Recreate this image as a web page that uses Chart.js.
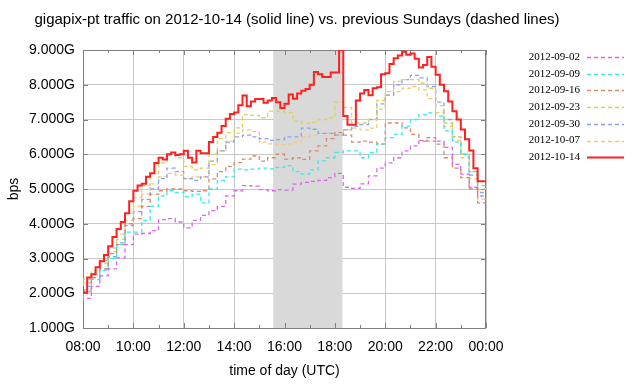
<!DOCTYPE html>
<html>
<head>
<meta charset="utf-8">
<title>gigapix-pt traffic</title>
<script src="https://cdn.jsdelivr.net/npm/chart.js@4.4.1/dist/chart.umd.min.js"></script>
<style>
  html, body { margin: 0; padding: 0; background: #fff; }
  #wrap { width: 640px; height: 384px; }
</style>
</head>
<body>
<div id="wrap"><canvas id="traffic" width="640" height="384"></canvas></div>
<script>
// day labels, oldest first (legend order)
const days = ['2012-09-02', '2012-09-09', '2012-09-16', '2012-09-23', '2012-09-30', '2012-10-07', '2012-10-14'];
const dayColors = ['#dd66ee', '#40e8e8', '#d98b6a', '#ddd060', '#88a4f0', '#f5c878', '#ff2020'];

// hour ticks 08:00 .. 00:00 (every 2 h labelled)
const hourLabels = ['08:00', '10:00', '12:00', '14:00', '16:00', '18:00', '20:00', '22:00', '00:00'];

// shaded interval (hours UTC)
const highlight = [15.55, 18.3];

// previous sundays, Gbps, one value per 20 min from 08:00 to 24:00
const sep02 = [1.76, 1.85, 2.2, 2.5, 2.7, 3.02, 3.4, 3.7, 3.72, 3.8, 4.12, 4.15,
  4.05, 3.88, 4.1, 4.24, 4.38, 4.5, 4.8, 4.95, 5.1, 5.08, 4.98, 4.95,
  4.98, 4.97, 5.14, 5.19, 5.22, 5.25, 5.33, 5.45, 5.05, 5.02, 5.15, 5.38,
  5.6, 5.75, 5.9, 6.1, 6.24, 6.38, 6.48, 6.38, 6.2, 5.71, 5.43, 5.05, 4.8];
const sep09 = [1.8, 2.05, 2.4, 2.65, 3.0, 3.4, 3.76, 3.76, 4.1, 4.5, 4.8, 4.95,
  4.9, 4.78, 4.85, 4.6, 5.0, 5.24, 5.35, 5.57, 5.55, 5.57, 5.6, 5.58,
  5.62, 5.67, 5.5, 5.43, 5.55, 5.81, 5.9, 6.05, 6.1, 6.1, 5.9, 6.05,
  6.3, 6.48, 6.57, 6.81, 7.0, 7.14, 7.19, 7.1, 6.67, 6.35, 6.0, 5.5, 5.1];
const sep16 = [1.9, 2.1, 2.45, 2.7, 3.14, 3.4, 4.0, 4.15, 4.5, 4.85, 4.95, 5.0,
  5.0, 4.95, 4.93, 4.95, 5.29, 5.5, 5.65, 5.76, 5.86, 5.95, 5.8, 5.9,
  6.0, 5.86, 5.9, 5.85, 6.1, 6.24, 6.45, 6.62, 6.55, 6.35, 6.38, 6.35,
  6.29, 6.9, 6.9, 6.76, 6.57, 6.4, 6.38, 6.29, 5.9, 5.6, 5.33, 5.0, 4.6];
const sep23 = [2.15, 2.4, 2.65, 2.95, 3.3, 3.7, 4.3, 4.75, 5.1, 5.45, 5.75, 5.98,
  5.9, 5.65, 5.55, 5.6, 6.0, 6.45, 6.62, 6.76, 7.14, 7.12, 7.05, 7.24,
  7.24, 7.2, 6.95, 6.9, 6.92, 7.0, 7.05, 7.5, 7.35, 6.9, 6.9, 7.0,
  7.55, 7.8, 8.1, 8.15, 8.15, 8.05, 7.9, 7.4, 6.9, 6.5, 6.0, 5.5, 5.0];
const sep30 = [1.9, 2.2, 2.45, 2.7, 3.05, 3.45, 3.95, 4.35, 4.7, 5.0, 5.3, 5.6,
  5.5, 5.3, 5.25, 5.35, 5.8, 6.1, 6.35, 6.5, 6.55, 6.5, 6.45, 6.4,
  6.42, 6.5, 6.5, 6.75, 6.72, 6.6, 6.6, 6.55, 6.7, 6.8, 6.85, 7.0,
  7.45, 7.7, 8.0, 8.15, 8.27, 8.2, 7.95, 7.5, 7.0, 6.5, 6.0, 5.4, 4.9];
const oct07 = [2.05, 2.3, 2.55, 2.85, 3.2, 3.55, 4.1, 4.5, 4.85, 5.15, 5.35, 5.45,
  5.4, 5.3, 5.35, 5.35, 5.7, 6.1, 6.38, 6.6, 6.7, 6.65, 6.35, 6.3,
  6.28, 6.3, 6.35, 6.5, 6.55, 6.6, 6.6, 6.55, 6.7, 6.75, 6.7, 6.75,
  7.3, 7.7, 7.8, 7.9, 7.95, 7.85, 7.6, 7.2, 6.8, 6.4, 5.9, 5.3, 4.7];

// the day itself, Gbps, one value per 10 min from 08:00 to 24:00
const oct14 = [2.2, 2.02, 2.45, 2.55, 2.75, 2.92,
  3.1, 3.35, 3.62, 3.85, 4.05, 4.3,
  4.65, 4.95, 5.1, 5.15, 5.35, 5.45,
  5.75, 5.9, 5.85, 6.0, 6.05, 5.98,
  6.0, 6.1, 5.9, 5.76, 6.1, 6.03,
  6.03, 6.35, 6.5, 6.62, 6.81, 7.02,
  7.16, 7.2, 7.41, 7.69, 7.38, 7.52,
  7.59, 7.59, 7.48, 7.55, 7.62, 7.5,
  7.33, 7.45, 7.72, 7.6, 7.75, 7.83,
  7.88, 8.0, 8.37, 8.3, 8.22, 8.22,
  8.35, 8.35, 9.0, 7.1, 6.85, 6.85,
  7.55, 7.75, 7.85, 7.7, 7.9, 7.93,
  8.3, 8.33, 8.6, 8.76, 8.84, 8.95,
  8.86, 8.9, 8.75, 8.5, 8.57, 8.8,
  8.52, 8.29, 8.0, 7.81, 7.52, 7.24,
  7.0, 6.71, 6.43, 6.11, 5.6, 5.22,
  5.22];

// sample times in hours
function sampleTimes(n) {
  const out = [];
  for (let i = 0; i < n; i++) out.push(8 + 16 * i / (n - 1));
  return out;
}
function toPoints(values) {
  const t = sampleTimes(values.length);
  return values.map((v, i) => ({x: t[i], y: v}));
}

const series = [sep02, sep09, sep16, sep23, sep30, oct07, oct14];

const SANS = '"Liberation Sans", Arial, Helvetica, sans-serif';
const SERIF = '"Liberation Serif", "Times New Roman", serif';
Chart.defaults.font.family = SANS;
Chart.defaults.color = '#000';

const datasets = series.map((vals, i) => {
  const solid = i === series.length - 1;
  return {
    label: days[i],
    data: toPoints(vals),
    borderColor: dayColors[i],
    borderWidth: solid ? 2 : 1.3,
    borderDash: solid ? [] : [4, 3],
    stepped: 'after',
    pointRadius: 0,
    fill: false,
    order: solid ? 0 : 1
  };
});

// band, frame, inward ticks, title and the key on the right
const gnuplotBits = {
  id: 'gnuplotBits',
  beforeDatasetsDraw(chart) {
    const {ctx, chartArea: a, scales: {x, y}} = chart;
    const x0 = x.getPixelForValue(highlight[0]);
    const x1 = x.getPixelForValue(highlight[1]);
    ctx.save();
    ctx.fillStyle = '#d9d9d9';
    ctx.fillRect(x0, a.top, x1 - x0, a.bottom - a.top);

    ctx.strokeStyle = '#808080';
    ctx.lineWidth = 1;
    ctx.strokeRect(a.left + 0.5, a.top + 0.5, a.right - a.left - 1, a.bottom - a.top);
    ctx.beginPath();
    for (let v = 1; v <= 9; v++) {
      const py = Math.round(y.getPixelForValue(v)) + 0.5;
      ctx.moveTo(a.left, py); ctx.lineTo(a.left + 5, py);
      ctx.moveTo(a.right, py); ctx.lineTo(a.right - 5, py);
    }
    for (let h = 8; h <= 24; h++) {
      const px = Math.round(x.getPixelForValue(h)) + 0.5;
      const len = h % 2 === 0 ? 5 : 3;
      ctx.moveTo(px, a.top); ctx.lineTo(px, a.top + len);
      ctx.moveTo(px, a.bottom); ctx.lineTo(px, a.bottom - len);
    }
    ctx.stroke();
    ctx.restore();
  },
  afterDraw(chart) {
    const {ctx} = chart;
    ctx.save();
    ctx.fillStyle = '#000';
    ctx.font = '15px ' + SANS;
    ctx.textAlign = 'center';
    ctx.textBaseline = 'middle';
    ctx.fillText('gigapix-pt traffic on 2012-10-14 (solid line) vs. previous Sundays (dashed lines)', 297, 20);

    ctx.font = '11px ' + SERIF;
    ctx.textAlign = 'right';
    chart.data.datasets.forEach((ds, i) => {
      const ky = 57 + i * 16.7;
      ctx.fillStyle = '#000';
      ctx.fillText(ds.label, 580, ky);
      ctx.strokeStyle = ds.borderColor;
      ctx.lineWidth = ds.borderWidth;
      ctx.setLineDash(ds.borderDash);
      ctx.beginPath();
      ctx.moveTo(587, Math.round(ky) + 0.5);
      ctx.lineTo(624, Math.round(ky) + 0.5);
      ctx.stroke();
    });
    ctx.restore();
  }
};

new Chart(document.getElementById('traffic'), {
  type: 'line',
  data: {datasets: datasets},
  plugins: [gnuplotBits],
  options: {
    responsive: false,
    animation: false,
    devicePixelRatio: 1,
    layout: {padding: {top: 50, right: 154, left: 0, bottom: 0}},
    plugins: {
      legend: {display: false},
      title: {display: false},
      tooltip: {enabled: false}
    },
    scales: {
      x: {
        type: 'linear',
        min: 8,
        max: 24,
        afterFit: s => { s.height = 56; },
        ticks: {
          stepSize: 1,
          autoSkip: false,
          maxRotation: 0,
          padding: 11,
          font: {size: 14},
          callback: v => (v % 2 === 0 ? hourLabels[(v - 8) / 2] : '')
        },
        grid: {
          drawTicks: false,
          lineWidth: 1,
          color: c => (c.tick && c.tick.value % 2 === 0 ? '#c8c8c8' : 'rgba(0,0,0,0)')
        },
        border: {display: false},
        title: {display: true, text: 'time of day (UTC)', font: {size: 14}, padding: {top: 2, bottom: 4}}
      },
      y: {
        min: 1,
        max: 9,
        afterFit: s => { s.width = 83; },
        ticks: {
          stepSize: 1,
          padding: 8,
          font: {size: 14},
          callback: v => v.toFixed(3) + 'G'
        },
        grid: {drawTicks: false, lineWidth: 1, color: '#c8c8c8'},
        border: {display: false},
        title: {display: true, text: 'bps', font: {size: 14}, padding: {top: 6, bottom: 4}}
      }
    }
  }
});
</script>
</body>
</html>
